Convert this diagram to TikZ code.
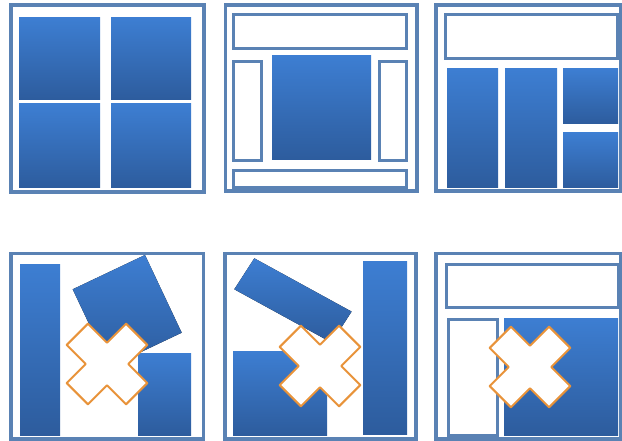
\documentclass[tikz,border=0pt]{standalone}
\usepackage{tikz}
\definecolor{framecol}{HTML}{5A82B4}
\definecolor{panetop}{HTML}{3D7ED2}
\definecolor{panebot}{HTML}{2D5C9D}
\definecolor{crosscol}{HTML}{E8933A}
\tikzset{
  frame/.style={draw=framecol,line width=3.5pt},
  slot/.style={draw=framecol,line width=3pt,fill=white},
  pane/.style={top color=panetop,bottom color=panebot,draw=none},
  badcross/.style={draw=crosscol,line width=2pt,fill=white,line join=round}
}
\newcommand\crossmark[2]{%
  \draw[badcross,shift={(#1,#2)},rotate=45]
    (15,42) -- (-15,42) -- (-15,15) -- (-42,15) -- (-42,-15) -- (-15,-15)
    -- (-15,-42) -- (15,-42) -- (15,-15) -- (42,-15) -- (42,15) -- (15,15) -- cycle;}

\begin{document}
\begin{tikzpicture}[x=1pt,y=-1pt]
\useasboundingbox (0,0) rectangle (622,441);
% first row: good layouts
\draw[frame] (11,5) rectangle (204,192);
\fill[pane] (19,18) rectangle (100,100);
\fill[pane] (111,18) rectangle (191,100);
\fill[pane] (19,104) rectangle (100,188);
\fill[pane] (111,104) rectangle (191,188);

\draw[frame] (225.5,5) rectangle (417,191);
\draw[slot] (233.5,14.5) rectangle (406.5,48.5);
\draw[slot] (233.5,61.5) rectangle (261.5,160.5);
\fill[pane] (272,56) rectangle (371,160);
\draw[slot] (379.5,61.5) rectangle (406.5,160.5);
\draw[slot] (233.5,170.5) rectangle (406.5,188);

\draw[frame] (436,5) rectangle (621,191);
\draw[slot] (445.5,14.5) rectangle (617.5,58.5);
\fill[pane] (447,69) rectangle (498,188);
\fill[pane] (505,69) rectangle (557,188);
\fill[pane] (563,69) rectangle (618,124);
\fill[pane] (563,133) rectangle (618,188);

% second row: broken layouts
\draw[frame] (11,253.5) rectangle (203.5,439);
\fill[pane] (20,265) rectangle (60,435);
\fill[pane] (72.7,289.3) -- (145,255) -- (181.7,332.7) -- (109.4,367) -- cycle;
\fill[pane] (138,353) rectangle (191,435);
\crossmark{107}{364}

\draw[frame] (225,253.5) rectangle (416,439);
\fill[pane] (254.3,258.3) -- (351.6,311.6) -- (331.6,342.6) -- (234.3,289.3) -- cycle;
\fill[pane] (233,351) rectangle (327,435);
\fill[pane] (363,262) rectangle (407,434);
\crossmark{320}{366}

\draw[frame] (436,253.5) rectangle (621,439);
\draw[slot] (446.5,264.5) rectangle (618.5,307.5);
\draw[slot] (448.5,319.5) rectangle (497.5,435);
\fill[pane] (504,318) rectangle (618,435);
\crossmark{530}{367}
\end{tikzpicture}
\end{document}
